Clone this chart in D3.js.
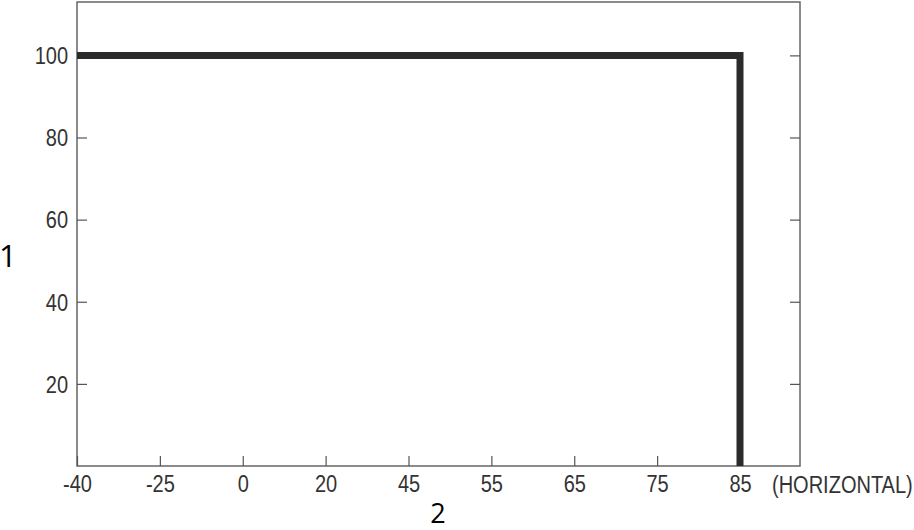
<!DOCTYPE html>
<html>

<head>
    <script src="https://d3js.org/d3.v7.min.js"></script>
    <style>
        body { margin: 0; background: #fff; }
        .axis text, .narrow { font-family: "Liberation Sans", Arial, sans-serif; font-size: 23px; fill: #333; }
        .axis path { display: none; }
        .axis line { stroke: #555; stroke-width: 1.2; }
    </style>
</head>

<body>
    <div id="chart"></div>
    <script>
        // DATA
        var xLabels = ['-40', '-25', '0', '20', '45', '55', '65', '75', '85']
        var yTicks = [20, 40, 60, 80, 100]
        var lineX = ['-40', '85', '85']
        var lineY = [100, 100, 0]

        // SETUP
        var width = 914
        var height = 530
        var margin = { left: 77, top: 2, right: 114, bottom: 64 }
        var plotW = width - margin.left - margin.right
        var plotH = height - margin.top - margin.bottom
        var squeeze = 0.87 // fake a condensed face, no narrow font installed

        var svg = d3.select('#chart').append('svg')
            .attr('width', width)
            .attr('height', height)

        var g = svg.append('g')
            .attr('transform', 'translate(' + margin.left + ',' + margin.top + ')')

        // last label sits at 85, leaving a gap before the right frame
        var x = d3.scalePoint()
            .domain(xLabels)
            .range([0, 663])

        var y = d3.scaleLinear()
            .domain([0, 113])
            .range([plotH, 0])

        // frame
        g.append('rect')
            .attr('width', plotW)
            .attr('height', plotH)
            .attr('fill', 'none')
            .attr('stroke', '#666')
            .attr('stroke-width', 1.5)

        // AXES (ticks point inward)
        g.append('g')
            .attr('class', 'axis')
            .attr('transform', 'translate(0,' + plotH + ')')
            .call(d3.axisBottom(x).tickSize(-10).tickPadding(10))
            .selectAll('text').attr('transform', 'scale(' + squeeze + ',1)')

        g.append('g')
            .attr('class', 'axis')
            .call(d3.axisLeft(y).tickValues(yTicks).tickSize(-10).tickPadding(9))
            .selectAll('text')
            .attr('dy', '0.36em')
            .attr('x', -9 / squeeze)
            .attr('transform', 'scale(' + squeeze + ',1)')

        g.append('g')
            .attr('class', 'axis')
            .attr('transform', 'translate(' + plotW + ',0)')
            .call(d3.axisRight(y).tickValues(yTicks).tickSize(-10).tickFormat(''))

        // LINE
        var pts = lineX.map(function (d, i) { return [x(d), y(lineY[i])] })
        g.append('path')
            .attr('d', d3.line()(pts))
            .attr('fill', 'none')
            .attr('stroke', '#2b2b2b')
            .attr('stroke-width', 7)
            .attr('stroke-linejoin', 'miter')

        // LABELS
        svg.append('text')
            .attr('class', 'narrow')
            .attr('transform', 'translate(772,493) scale(' + squeeze + ',1)')
            .text('(HORIZONTAL)')

        svg.append('text')
            .attr('x', -1)
            .attr('y', 267)
            .style('font-family', '"Open Sans", sans-serif')
            .style('font-size', '31px')
            .style('fill', '#000')
            .text('1')

        svg.append('text')
            .attr('x', 438)
            .attr('y', 523)
            .attr('text-anchor', 'middle')
            .style('font-family', '"Open Sans", sans-serif')
            .style('font-size', '27px')
            .style('fill', '#000')
            .text('2')
    </script>
</body>

</html>
